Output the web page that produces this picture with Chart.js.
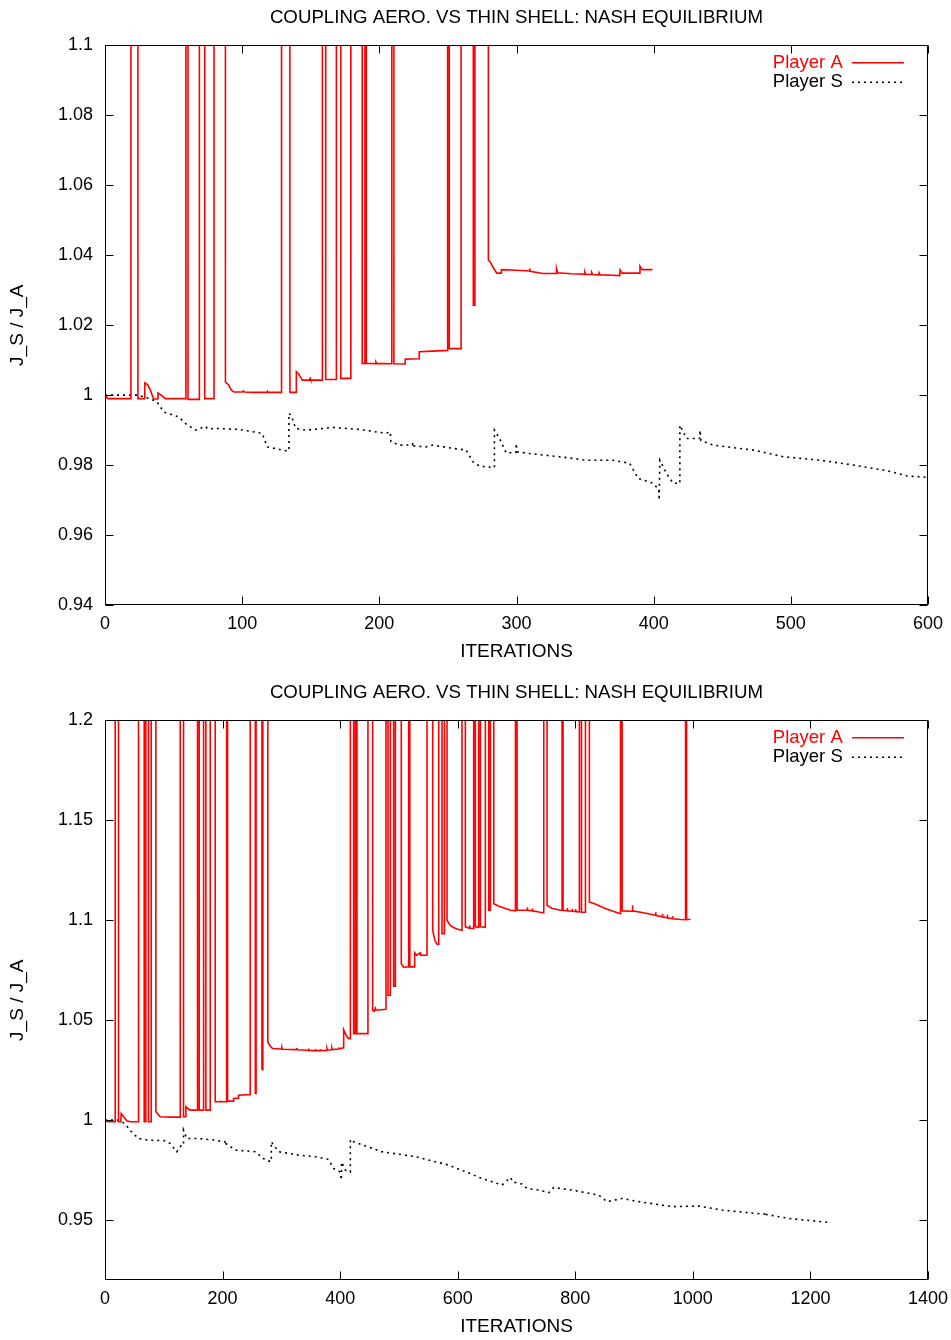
<!DOCTYPE html>
<html>
<head>
<meta charset="utf-8">
<script src="https://cdn.jsdelivr.net/npm/chart.js@4.4.1/dist/chart.umd.min.js"></script>
<style>
  html, body { margin: 0; padding: 0; background: #fff; overflow: hidden; }
  canvas { display: block; }
</style>
</head>
<body>
<canvas id="c1" width="951" height="675"></canvas>
<canvas id="c2" width="951" height="675"></canvas>
<script>
// ---------------- DATA ----------------
const chartTitle = 'COUPLING AERO. VS THIN SHELL: NASH EQUILIBRIUM';
const xTitle = 'ITERATIONS';
const yTitle = 'J_S / J_A';
const seriesNames = ['Player A', 'Player S'];

// Top chart axes
const topXTicks = [0, 100, 200, 300, 400, 500, 600];
const topYTicks = [0.94, 0.96, 0.98, 1, 1.02, 1.04, 1.06, 1.08, 1.1];
const topYLabels = ['0.94', '0.96', '0.98', '1', '1.02', '1.04', '1.06', '1.08', '1.1'];

// Top chart, Player A (values of 1.3 are off the top of the plot)
const topIterA = [0, 2, 18.9, 18.9, 24, 24, 28.5, 29, 31, 33, 35.4, 38.6, 38.6, 41, 44, 59, 59, 60.5, 60.5, 68.8,
  68.8, 72.7, 72.7, 79.5, 79.5, 87.8, 87.8, 90, 92, 94, 100, 101, 101.5, 108, 118, 118.5, 119, 128.7, 128.7, 134.8,
  134.8, 139.5, 139.5, 141, 143.9, 149, 149.5, 150, 158.5, 158.5, 160.9, 160.9, 168.7, 168.7, 171.9, 171.9, 179.2, 179.2, 187.5, 187.5,
  189.5, 189.5, 190.5, 190.5, 197, 197.5, 198, 209.1, 209.1, 210.6, 210.6, 218.9, 218.9, 229.1, 229.1, 238.8, 249.8, 249.8, 251, 251,
  259.6, 259.6, 268.5, 268.5, 269.7, 269.7, 279.5, 279.5, 281, 283, 285.6, 288.8, 289, 300, 309.5, 309.7, 310, 319.2, 329, 329.2,
  330, 340, 349.7, 349.9, 350.5, 354.6, 354.8, 355.5, 360, 360.2, 361, 370, 375.3, 375.5, 377, 389.7, 390, 391.5, 399.2];
const topValA = [1.0002, 0.9990, 0.9990, 1.3, 1.3, 0.9990, 0.9990, 1.0035, 1.0030, 1.0015, 0.9989, 0.9989, 1.0006, 1.0000, 0.9990, 0.9990, 1.3, 1.3, 0.9988, 0.9988,
  1.3, 1.3, 0.9990, 0.9990, 1.3, 1.3, 1.0038, 1.0030, 1.0015, 1.0009, 1.0009, 1.0012, 1.0009, 1.0008, 1.0008, 1.0011, 1.0008, 1.0008, 1.3, 1.3,
  1.0008, 1.0008, 1.0067, 1.0062, 1.0043, 1.0043, 1.0048, 1.0043, 1.0043, 1.3, 1.3, 1.0045, 1.0045, 1.3, 1.3, 1.0048, 1.0048, 1.3, 1.3, 1.0091,
  1.0091, 1.3, 1.3, 1.0091, 1.0090, 1.0095, 1.0091, 1.0090, 1.3, 1.3, 1.0090, 1.0089, 1.0103, 1.0104, 1.0124, 1.0126, 1.0128, 1.3, 1.3, 1.0133,
  1.0133, 1.3, 1.3, 1.0257, 1.0257, 1.3, 1.3, 1.0386, 1.0380, 1.0365, 1.0349, 1.0349, 1.0359, 1.0357, 1.0355, 1.0362, 1.0354, 1.0348, 1.0348, 1.0362,
  1.0350, 1.0347, 1.0346, 1.0352, 1.0345, 1.0345, 1.0351, 1.0345, 1.0344, 1.0350, 1.0344, 1.0343, 1.0342, 1.0358, 1.0349, 1.0349, 1.0369, 1.0359, 1.0359];

// Top chart, Player S
const topIterS = [0, 24, 31.8, 37.9, 42.8, 53.7, 58.6, 65.9, 73.2, 75, 80.5, 97.6, 114.6, 118.3, 131.7, 134.1, 134.1, 136, 139, 146.3,
  155, 165.8, 185.3, 204.8, 208, 208.4, 214.5, 224.2, 224.5, 225, 234, 238.9, 253.5, 263.3, 268.1, 273, 283.9, 283.9, 287.6, 292.5,
  299.6, 299.8, 300.3, 309.5, 331.4, 350.9, 370.4, 382.6, 388.7, 399.6, 403.7, 404, 404.5, 409.4, 414.2, 419.1, 419.1, 424, 433.5, 433.8,
  434.5, 443.5, 472.7, 494.6, 521.4, 545.8, 570.2, 584.8, 600];
const topValS = [1.0000, 1.0000, 0.9991, 0.9981, 0.9952, 0.9938, 0.9919, 0.9900, 0.9911, 0.9903, 0.9905, 0.9902, 0.9891, 0.9852, 0.9841, 0.9841, 0.9948, 0.9940, 0.9905, 0.9900,
  0.9903, 0.9908, 0.9902, 0.9891, 0.9895, 0.9867, 0.9857, 0.9858, 0.9865, 0.9855, 0.9852, 0.9857, 0.9848, 0.9843, 0.9810, 0.9797, 0.9793, 0.9900, 0.9876, 0.9835,
  0.9836, 0.9862, 0.9838, 0.9833, 0.9824, 0.9814, 0.9814, 0.9805, 0.9762, 0.9748, 0.9730, 0.9700, 0.9814, 0.9776, 0.9748, 0.9748, 0.9914, 0.9876, 0.9876, 0.9900,
  0.9870, 0.9857, 0.9843, 0.9824, 0.9814, 0.9800, 0.9784, 0.9769, 0.9765];

// Bottom chart axes
const botXTicks = [0, 200, 400, 600, 800, 1000, 1200, 1400];
const botYTicks = [0.95, 1, 1.05, 1.1, 1.15, 1.2];
const botYLabels = ['0.95', '1', '1.05', '1.1', '1.15', '1.2'];

// Bottom chart, Player A (values of 1.4 are off the top of the plot)
const botIterA = [0, 5, 17.4, 17.4, 23, 23, 27, 27.6, 32, 37, 43, 57, 57, 66.7, 66.7, 69.5, 69.5, 74, 74, 78.6,
  78.6, 86.5, 86.5, 90, 94, 110, 128, 128, 133.6, 133.6, 137, 137.6, 141, 145, 157.4, 157.4, 160.3, 160.3, 167.7, 167.7,
  171.6, 171.6, 179, 179, 187.5, 187.5, 196, 196.3, 197, 207, 207, 208.5, 208.5, 218.7, 218.7, 227.2, 227.2, 247, 247, 255.7,
  255.7, 257, 257, 267, 267, 268.5, 268.5, 277, 277, 280, 285, 300, 301, 302, 326.3, 326.5, 327, 346.2, 346.4, 347,
  357.6, 357.8, 358.4, 366.1, 366.3, 367, 377.4, 377.6, 378.2, 385.8, 386, 386.6, 397.2, 397.4, 398, 406, 406, 410, 414.5, 417.4,
  417.4, 423, 423, 425.9, 425.9, 428.6, 428.6, 447.3, 447.3, 455.3, 455.3, 458, 460, 461, 478, 478, 481.4, 481.4, 485.4, 485.4,
  491, 491, 494, 494, 504, 504, 508, 516.6, 516.6, 518.5, 518.5, 526.8, 526.8, 530, 536.3, 537, 547.8, 547.8, 557.5, 557.5,
  561, 564.8, 567.7, 567.7, 573.3, 573.3, 577.4, 577.4, 581.8, 581.8, 587, 592, 600, 607.3, 607.3, 613, 613, 620, 620.5, 621,
  627.2, 627.2, 630, 630, 635.7, 635.7, 638.6, 638.6, 647, 647, 652.8, 652.8, 655.6, 655.6, 661.3, 661.3, 670, 680, 690, 698.2,
  698.2, 701, 701, 718, 718.3, 719, 726.5, 726.8, 727.5, 740, 746.4, 746.4, 752, 752, 760, 774.8, 777.5, 777.5, 779.2, 779.2,
  786, 786.3, 787, 794.6, 794.9, 795.5, 800.3, 800.6, 801.3, 807, 807, 810.5, 810.5, 817.3, 817.3, 824, 824, 835, 850, 874,
  876.9, 876.9, 879.7, 879.7, 896.7, 897, 898, 920, 936.5, 936.8, 937.5, 947.8, 948.1, 948.8, 956.3, 956.6, 957.3, 964.8, 965.1, 965.8,
  980, 987.6, 987.6, 989.3, 989.3, 996];
const botValA = [0.9997, 0.9992, 0.9992, 1.4, 1.4, 0.9992, 0.9992, 1.0033, 1.0015, 0.9997, 0.9992, 0.9992, 1.4, 1.4, 0.9992, 0.9992, 1.4, 1.4, 0.9992, 0.9992,
  1.4, 1.4, 1.0042, 1.0030, 1.0017, 1.0015, 1.0015, 1.4, 1.4, 1.0017, 1.0017, 1.0067, 1.0058, 1.0050, 1.0050, 1.4, 1.4, 1.0050, 1.0050, 1.4,
  1.4, 1.0050, 1.0050, 1.4, 1.4, 1.0092, 1.0092, 1.0098, 1.0092, 1.0092, 1.4, 1.4, 1.0095, 1.0095, 1.0108, 1.0110, 1.0125, 1.0128, 1.4, 1.4,
  1.0133, 1.0133, 1.4, 1.4, 1.0253, 1.0253, 1.4, 1.4, 1.0392, 1.0375, 1.0358, 1.0356, 1.0364, 1.0355, 1.0353, 1.0361, 1.0352, 1.0350, 1.0358, 1.0349,
  1.0348, 1.0356, 1.0348, 1.0348, 1.0356, 1.0348, 1.0349, 1.0357, 1.0350, 1.0352, 1.0360, 1.0353, 1.0356, 1.0364, 1.0357, 1.0362, 1.0453, 1.0425, 1.0408, 1.0408,
  1.4, 1.4, 1.0433, 1.0433, 1.4, 1.4, 1.0433, 1.0433, 1.4, 1.4, 1.0550, 1.0545, 1.0560, 1.0550, 1.0555, 1.4, 1.4, 1.0625, 1.0625, 1.4,
  1.4, 1.0670, 1.0670, 1.4, 1.4, 1.0783, 1.0765, 1.0767, 1.4, 1.4, 1.0767, 1.0767, 1.0837, 1.0825, 1.0837, 1.0825, 1.0825, 1.4, 1.4, 1.0950,
  1.0900, 1.0880, 1.0880, 1.4, 1.4, 1.0933, 1.0933, 1.4, 1.4, 1.1000, 1.0975, 1.0965, 1.0955, 1.0950, 1.4, 1.4, 1.0967, 1.0960, 1.0975, 1.0960,
  1.0958, 1.4, 1.4, 1.0967, 1.0965, 1.4, 1.4, 1.0967, 1.0965, 1.4, 1.4, 1.1050, 1.1050, 1.4, 1.4, 1.1083, 1.1070, 1.1060, 1.1050, 1.1047,
  1.4, 1.4, 1.1050, 1.1050, 1.1065, 1.1050, 1.1048, 1.1060, 1.1047, 1.1040, 1.1037, 1.4, 1.4, 1.1075, 1.1060, 1.1050, 1.1050, 1.4, 1.4, 1.1050,
  1.1048, 1.1062, 1.1047, 1.1045, 1.1058, 1.1045, 1.1044, 1.1056, 1.1043, 1.1042, 1.4, 1.4, 1.1040, 1.1040, 1.4, 1.4, 1.1092, 1.1080, 1.1060, 1.1035,
  1.1033, 1.4, 1.4, 1.1047, 1.1045, 1.1075, 1.1047, 1.1035, 1.1025, 1.1040, 1.1024, 1.1018, 1.1033, 1.1017, 1.1013, 1.1028, 1.1012, 1.1008, 1.1022, 1.1008,
  1.1004, 1.1003, 1.4, 1.4, 1.1003, 1.1005];

// Bottom chart, Player S
const botIterS = [0, 23, 34, 43, 57, 74, 102.5, 111, 122, 130, 133.6, 133.6, 139, 159, 187.5, 204, 204.6, 205.5, 221.6, 255.7,
  272.7, 282.9, 282.9, 287, 295.3, 329.4, 357.8, 380.4, 389, 400, 402, 402.5, 408.8, 417.4, 417.4, 424, 431.5, 471, 528, 584.7,
  613, 641.4, 675.4, 689.7, 694, 709.4, 718, 737.9, 749.3, 755, 763.4, 794.6, 840, 854, 879.7, 908, 964.8, 1010, 1049.9, 1106.7,
  1123.7, 1124, 1125, 1163.4, 1235];
const botValS = [1.0000, 1.0000, 0.9983, 0.9947, 0.9908, 0.9900, 0.9897, 0.9883, 0.9842, 0.9875, 0.9875, 0.9950, 0.9908, 0.9908, 0.9900, 0.9890, 0.9900, 0.9883, 0.9850, 0.9842,
  0.9800, 0.9792, 0.9892, 0.9875, 0.9842, 0.9825, 0.9817, 0.9803, 0.9758, 0.9740, 0.9700, 0.9790, 0.9750, 0.9740, 0.9903, 0.9890, 0.9883, 0.9842, 0.9817, 0.9775,
  0.9742, 0.9708, 0.9675, 0.9713, 0.9690, 0.9680, 0.9658, 0.9650, 0.9642, 0.9637, 0.9663, 0.9650, 0.9625, 0.9592, 0.9608, 0.9592, 0.9567, 0.9570, 0.9550, 0.9533,
  0.9530, 0.9540, 0.9528, 0.9508, 0.9487];

// ---------------- RENDERING ----------------
const FONT = "'Liberation Sans', Arial, Helvetica, sans-serif";
const FS_TICK = 18;
const FS_TITLE = 18.7;
const FS_AXIS = 19;
const FS_LEGEND = 18.5;
Chart.defaults.font.family = FONT;
Chart.defaults.font.size = FS_TICK;
Chart.defaults.color = '#000';

const pts = (xs, ys) => xs.map((x, i) => ({x: x, y: ys[i]}));

const framePlugin = {
  id: 'frame',
  afterDatasetsDraw(chart) {
    const {ctx, chartArea: a, scales: {x, y}} = chart;
    const L = Math.round(a.left) + 0.5, R = Math.round(a.right) - 0.5;
    const T = Math.round(a.top) + 0.5, B = Math.round(a.bottom) - 0.5;
    const len = 8;
    ctx.save();
    ctx.strokeStyle = '#000';
    ctx.lineWidth = 1;
    ctx.beginPath();
    x.ticks.forEach(t => {
      const p = Math.round(x.getPixelForValue(t.value)) + 0.5;
      ctx.moveTo(p, B); ctx.lineTo(p, B - len);
      ctx.moveTo(p, T); ctx.lineTo(p, T + len);
    });
    y.ticks.forEach(t => {
      const p = Math.round(y.getPixelForValue(t.value)) + 0.5;
      ctx.moveTo(L, p); ctx.lineTo(L + len, p);
      ctx.moveTo(R, p); ctx.lineTo(R - len, p);
    });
    ctx.stroke();
    ctx.strokeRect(L, T, R - L, B - T);
    ctx.restore();
  }
};

const legendPlacer = {
  id: 'legendPlacer',
  afterLayout(chart) {
    const lg = chart.legend;
    const a = chart.chartArea;
    if (!lg) return;
    const pad = lg.options.labels.padding;
    const right = a.right - 24 + pad;
    lg.left = right - lg.width;
    lg.right = right;
    lg.top = a.top + 8 - pad;
    lg.bottom = lg.top + lg.height;
  }
};

function makeChart(id, cfg) {
  const ctx = document.getElementById(id).getContext('2d');
  return new Chart(ctx, {
    type: 'line',
    data: {
      datasets: [
        {
          label: seriesNames[0],
          data: pts(cfg.iterA, cfg.valA),
          borderColor: '#ff0000',
          backgroundColor: '#ff0000',
          borderWidth: 1.6,
          pointRadius: 0,
          tension: 0,
          fill: false
        },
        {
          label: seriesNames[1],
          data: pts(cfg.iterS, cfg.valS),
          borderColor: '#000000',
          backgroundColor: '#000000',
          borderWidth: 1.6,
          borderDash: [2, 4],
          pointRadius: 0,
          tension: 0,
          fill: false
        }
      ]
    },
    options: {
      responsive: false,
      animation: false,
      devicePixelRatio: 1,
      layout: {padding: {left: 0, right: 23, top: 0, bottom: 0}},
      plugins: {
        title: {
          display: true,
          fullSize: false,
          text: chartTitle,
          font: {size: FS_TITLE, weight: 'normal'},
          color: '#000',
          padding: {top: 6.5, bottom: 16.5}
        },
        legend: {
          display: true,
          position: 'chartArea',
          align: 'start',
          rtl: true,
          labels: {
            usePointStyle: true,
            pointStyle: 'line',
            pointStyleWidth: 52,
            padding: 1,
            font: {size: FS_LEGEND},
            generateLabels(chart) {
              const items = Chart.defaults.plugins.legend.labels.generateLabels(chart);
              items.forEach(it => {
                const ds = chart.data.datasets[it.datasetIndex];
                it.fontColor = ds.borderColor;
                it.strokeStyle = ds.borderColor;
                it.lineDash = ds.borderDash || [];
                it.lineWidth = ds.borderWidth;
                it.pointStyle = 'line';
              });
              return items;
            }
          }
        },
        tooltip: {enabled: false}
      },
      scales: {
        x: {
          type: 'linear',
          min: cfg.xTicks[0],
          max: cfg.xTicks[cfg.xTicks.length - 1],
          grid: {display: false, drawTicks: false, tickLength: 0},
          border: {display: false},
          afterBuildTicks(scale) { scale.ticks = cfg.xTicks.map(v => ({value: v})); },
          ticks: {
            padding: 8.5,
            maxRotation: 0,
            autoSkip: false,
            callback: (v) => String(v)
          },
          title: {display: true, text: xTitle, font: {size: FS_AXIS}, padding: {top: 0, bottom: 12.3}},
          afterFit(scale) { scale.height = 70; scale.paddingLeft = 0; scale.paddingRight = 0; }
        },
        y: {
          type: 'linear',
          min: cfg.yMin,
          max: cfg.yMax,
          grid: {display: false, drawTicks: false, tickLength: 0},
          border: {display: false},
          afterBuildTicks(scale) { scale.ticks = cfg.yTicks.map(v => ({value: v})); },
          ticks: {
            padding: 12,
            autoSkip: false,
            callback: (v, i) => cfg.yLabels[i]
          },
          title: {display: true, text: yTitle, font: {size: FS_AXIS}, padding: {top: 6.6, bottom: 0}},
          afterFit(scale) { scale.width = 105; scale.paddingTop = 0; scale.paddingBottom = 0; }
        }
      }
    },
    plugins: [framePlugin, legendPlacer]
  });
}

makeChart('c1', {
  iterA: topIterA, valA: topValA, iterS: topIterS, valS: topValS,
  xTicks: topXTicks, yTicks: topYTicks, yLabels: topYLabels, yMin: 0.94, yMax: 1.1
});
makeChart('c2', {
  iterA: botIterA, valA: botValA, iterS: botIterS, valS: botValS,
  xTicks: botXTicks, yTicks: botYTicks, yLabels: botYLabels, yMin: 0.92, yMax: 1.2
});
</script>
</body>
</html>
